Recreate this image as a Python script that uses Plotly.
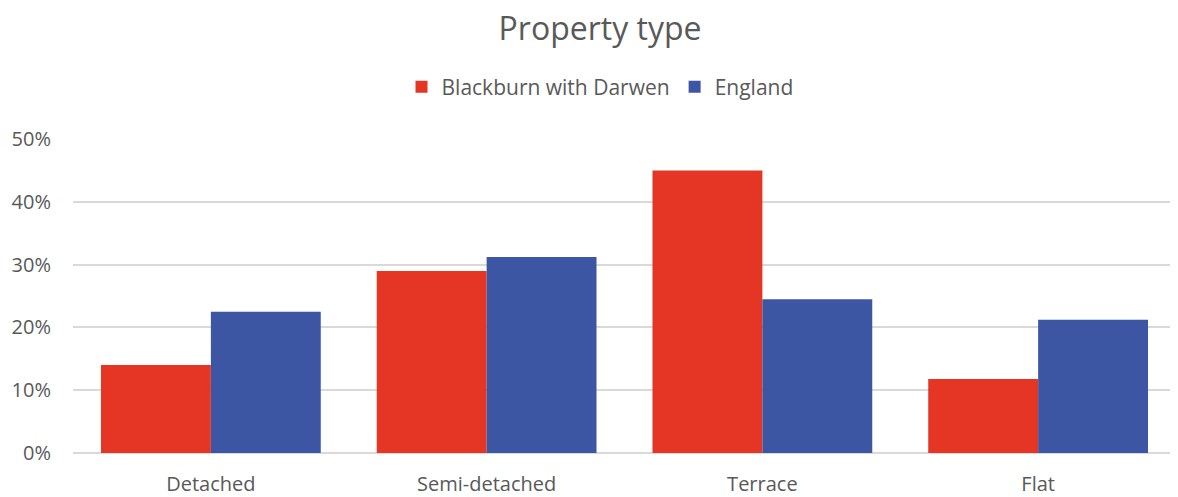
import plotly.graph_objects as go

categories = ["Detached", "Semi-detached", "Terrace", "Flat"]
blackburn = [14.0, 29.0, 45.0, 11.8]
england = [22.5, 31.2, 24.5, 21.2]
tick_vals = [0, 10, 20, 30, 40, 50]
tick_text = ["0%", "10%", "20%", "30%", "40%", "50%"]

fig = go.Figure()
fig.add_trace(go.Bar(name="Blackburn with Darwen", x=categories, y=blackburn,
                     marker=dict(color="#E43525", line=dict(width=0))))
fig.add_trace(go.Bar(name="England", x=categories, y=england,
                     marker=dict(color="#3C56A3", line=dict(width=0))))

font_family = "Open Sans, Liberation Sans, sans-serif"
fig.update_layout(
    width=1170, height=489,
    paper_bgcolor="white", plot_bgcolor="white",
    barmode="group", bargap=0.203, bargroupgap=0,
    margin=dict(l=65, r=2, t=131, b=44, autoexpand=False),
    title=dict(text="Property type", x=0.506, xref="container", xanchor="center",
               y=0.957, yref="container", yanchor="middle",
               font=dict(family=font_family, size=32, color="#595959")),
    legend=dict(orientation="h", x=0.506, xref="container", xanchor="center",
                y=0.838, yref="container", yanchor="middle",
                font=dict(family=font_family, size=21, color="#595959"),
                itemwidth=30, traceorder="normal"),
    font=dict(family=font_family, size=20, color="#595959"),
)
fig.update_yaxes(range=[0, 50], tickvals=tick_vals, ticktext=tick_text,
                 showgrid=True, gridcolor="#D9D9D9", gridwidth=1.5,
                 zeroline=True, zerolinecolor="#D9D9D9", zerolinewidth=1.5,
                 ticks="", ticklabelstandoff=21, automargin=False,
                 tickfont=dict(family=font_family, size=20, color="#595959"))
fig.update_xaxes(showline=False, ticks="", ticklabelstandoff=17, automargin=False,
                 tickfont=dict(family=font_family, size=20, color="#595959"))

fig.write_html("out.html")
